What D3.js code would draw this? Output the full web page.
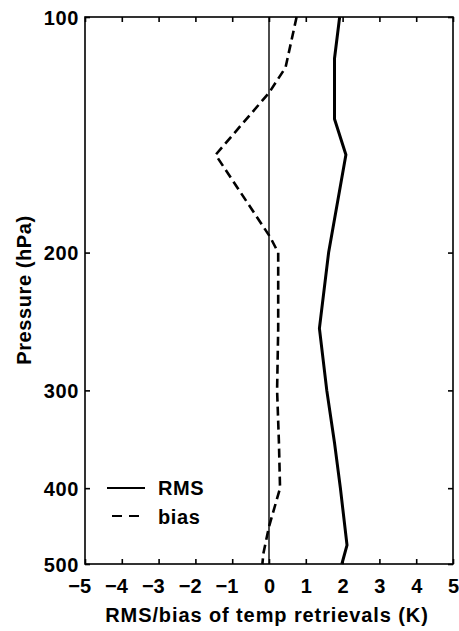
<!DOCTYPE html>
<html><head><meta charset="utf-8">
<script src="https://cdn.jsdelivr.net/npm/d3@7"></script>
<style>body{margin:0;background:#fff}svg{display:block}</style>
</head><body><svg id="c" width="459" height="631"></svg>
<script>
const xTicks = [-5,-4,-3,-2,-1,0,1,2,3,4,5];
const yTicks = [100,200,300,400,500];
const rmsPressure = [100,113,135,150,200,250,300,350,400,473,500];
const rmsValues   = [1.92,1.78,1.78,2.09,1.62,1.37,1.57,1.78,1.94,2.12,1.98];
const biasPressure = [100,116,125,150,191,200,250,300,350,400,448,484,500];
const biasValues   = [0.75,0.45,0.0,-1.45,0.03,0.25,0.25,0.22,0.27,0.30,0.0,-0.15,-0.18];
const legendLabels = ["RMS","bias"];

const svg = d3.select("#c");
const m = {l:85, r:453, t:17, b:564};
const x = d3.scaleLinear().domain([-5,5]).range([m.l,m.r]);
const y = d3.scaleLog().domain([100,500]).range([m.t,m.b]);
const font = "'Liberation Sans', Arial, sans-serif";
const fs = 20;

// frame
svg.append("rect").attr("x",m.l).attr("y",m.t).attr("width",m.r-m.l).attr("height",m.b-m.t)
  .attr("fill","none").attr("stroke","#000").attr("stroke-width",1.6);

// axes (ticks inward)
const gx = svg.append("g").attr("transform",`translate(0,${m.b})`)
  .call(d3.axisBottom(x).tickValues(xTicks).tickSize(-5).tickPadding(10).tickFormat(d=>d<0?"\u2212"+Math.abs(d):d));
const gxt = svg.append("g").attr("transform",`translate(0,${m.t})`)
  .call(d3.axisTop(x).tickValues(xTicks).tickSize(-5).tickFormat(""));
const gy = svg.append("g").attr("transform",`translate(${m.l},0)`)
  .call(d3.axisLeft(y).tickValues(yTicks).tickSize(-5).tickPadding(6).tickFormat(d3.format("d")));
const gyr = svg.append("g").attr("transform",`translate(${m.r},0)`)
  .call(d3.axisRight(y).tickValues(yTicks).tickSize(-5).tickFormat(""));
[gx,gxt,gy,gyr].forEach(g=>{
  g.select(".domain").remove();
  g.selectAll(".tick line").attr("stroke","#000").attr("stroke-width",1.6);
  g.selectAll("text").attr("font-family",font).attr("font-size",fs).attr("font-weight","bold").attr("fill","#000");
});
gy.selectAll("text").attr("dy","0.36em").attr("letter-spacing",0.6);
// digits centred on tick, minus sign hangs left
gx.selectAll(".tick text").attr("dy",null).attr("y",29)
  .attr("text-anchor",d=>d<0?"end":"middle").attr("x",d=>d<0?5.6:0);

// zero line
svg.append("line").attr("x1",x(0)).attr("x2",x(0)).attr("y1",m.t).attr("y2",m.b)
  .attr("stroke","#000").attr("stroke-width",1.4);

const line = d3.line().x(d=>x(d[1])).y(d=>y(d[0]));
svg.append("path").datum(rmsPressure.map((p,i)=>[p,rmsValues[i]])).attr("d",line)
  .attr("fill","none").attr("stroke","#000").attr("stroke-width",3).attr("stroke-linejoin","round");
svg.append("path").datum(biasPressure.map((p,i)=>[p,biasValues[i]])).attr("d",line)
  .attr("fill","none").attr("stroke","#000").attr("stroke-width",2.6).attr("stroke-dasharray","9,5");

// labels
svg.append("text").attr("x",267).attr("y",622).attr("text-anchor","middle").attr("letter-spacing",0.9)
  .attr("font-family",font).attr("font-size",fs).attr("font-weight","bold").text("RMS/bias of temp retrievals (K)");
svg.append("text").attr("transform",`translate(31,290) rotate(-90)`).attr("text-anchor","middle").attr("letter-spacing",0.6)
  .attr("font-family",font).attr("font-size",fs).attr("font-weight","bold").text("Pressure (hPa)");

// legend
const lg = svg.append("g");
lg.append("line").attr("x1",107).attr("x2",145).attr("y1",488).attr("y2",488).attr("stroke","#000").attr("stroke-width",2);
lg.append("line").attr("x1",112).attr("x2",143).attr("y1",516).attr("y2",516).attr("stroke","#000").attr("stroke-width",2).attr("stroke-dasharray","10,7");
legendLabels.forEach((t,i)=>{
  lg.append("text").attr("x",158).attr("y",488+i*29).attr("dy","0.36em").attr("letter-spacing",0.6)
    .attr("font-family",font).attr("font-size",fs).attr("font-weight","bold").text(t);
});
</script></body></html>
